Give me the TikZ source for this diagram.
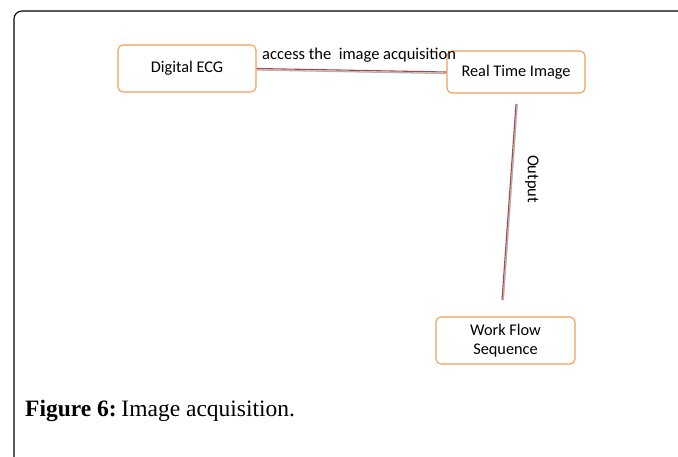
\documentclass[tikz,border=0pt]{standalone}
\usepackage{fontspec}
\setmainfont{Liberation Serif}
\newfontfamily\boxfont{Carlito}
\definecolor{boxedge}{RGB}{240,160,90}
\definecolor{linkred}{RGB}{175,70,70}
\begin{document}
\begin{tikzpicture}[x=1pt,y=-1pt,
  box/.style={draw=boxedge, line width=1.1pt, rounded corners=5pt, fill=white, font=\boxfont\fontsize{16.3}{19}\selectfont, align=center, inner sep=0pt},
  link/.style={draw=linkred, line width=1.1pt},
  shadowline/.style={draw=black!30, line width=1.3pt},
  lbl/.style={font=\boxfont\fontsize{16.5}{19}\selectfont, inner sep=0pt}]
\useasboundingbox (0,0) rectangle (678,457);
\draw[line width=1.1pt, rounded corners=8pt] (14,460) -- (14,11) -- (682,11);
\node[box, minimum width=138pt, minimum height=47pt] (ecg) at (187,68.5) {Digital ECG};
\node[box, minimum width=138pt, minimum height=42pt] (rti) at (516,72) {Real Time Image};
\node[box, minimum width=139pt, minimum height=47pt] (wfs) at (505.5,340.5) {Work Flow\\Sequence};
\coordinate (o1) at (516,104);
\coordinate (o2) at (502,300);
\draw[shadowline] ([yshift=-1.5pt]ecg.east) -- ([yshift=-1.5pt]rti.west);
\draw[link] (ecg.east) -- (rti.west);
\draw[shadowline] ([xshift=1.3pt]o1) -- ([xshift=1.3pt]o2);
\draw[link] (o1) -- (o2);
\node[lbl, anchor=base west] (acc) at (262,60) {access the\ \ image acquisition};
\node[lbl, rotate=-90] (out) at (532,179) {Output};
\node[anchor=base west, inner sep=0pt, font=\fontsize{23.5}{27}\selectfont] (cap) at (25,416) {\textbf{Figure 6:}\hspace{0.2em}Image acquisition.};
\end{tikzpicture}
\end{document}
